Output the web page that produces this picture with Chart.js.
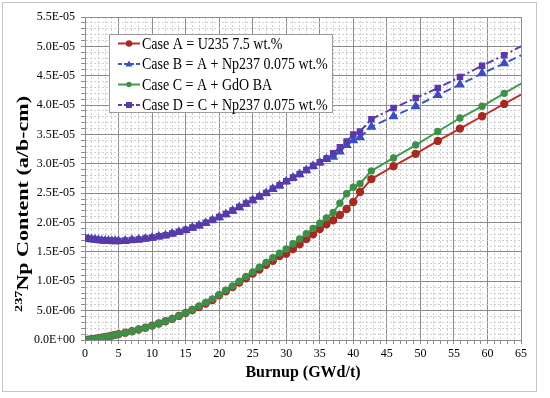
<!DOCTYPE html>
<html>
<head>
<meta charset="utf-8">
<script src="https://cdn.jsdelivr.net/npm/chart.js@4.4.0/dist/chart.umd.min.js"></script>
<style>
  body { margin: 0; background: #fff; }
  #wrap { width: 550px; height: 398px; position: relative; }
</style>
</head>
<body>
<div id="wrap"><canvas id="npChart" width="550" height="398"></canvas></div>
<script>
// burnup steps (GWd/t)
const burnup = [0, 0.5, 1, 1.5, 2, 2.5, 3, 3.5, 4, 4.5, 5,
  6, 7, 8, 9, 10, 11, 12, 13, 14, 15, 16, 17, 18, 19, 20,
  21, 22, 23, 24, 25, 26, 27, 28, 29, 30, 31, 32, 33, 34, 35,
  36, 37, 38, 39, 40, 41, 42.7, 46, 49.3, 52.6, 55.9, 59.2, 62.5, 65.8];

// Np-237 content, units of 1e-5 a/b-cm
const caseA = [0, 0.005, 0.012, 0.02, 0.03, 0.04, 0.05, 0.062, 0.075, 0.088, 0.1,
  0.125, 0.15, 0.18, 0.21, 0.245, 0.28, 0.32, 0.36, 0.41, 0.46, 0.51, 0.56, 0.62, 0.68, 0.76,
  0.83, 0.9, 0.98, 1.05, 1.13, 1.2, 1.28, 1.35, 1.43, 1.47, 1.55, 1.63, 1.72, 1.8, 1.89,
  1.97, 2.04, 2.13, 2.23, 2.35, 2.52, 2.74, 2.96, 3.17, 3.39, 3.6, 3.81, 4.02, 4.23];
const caseB = [1.73, 1.72, 1.715, 1.71, 1.70, 1.695, 1.69, 1.688, 1.686, 1.685, 1.685,
  1.69, 1.70, 1.71, 1.725, 1.74, 1.76, 1.78, 1.81, 1.84, 1.87, 1.91, 1.95, 1.99, 2.04, 2.09,
  2.14, 2.2, 2.26, 2.32, 2.38, 2.44, 2.5, 2.57, 2.63, 2.7, 2.76, 2.82, 2.89, 2.96, 3.02,
  3.08, 3.12, 3.21, 3.32, 3.4, 3.45, 3.63, 3.81, 3.98, 4.17, 4.35, 4.54, 4.71, 4.89];
const caseC = [0, 0.005, 0.012, 0.02, 0.03, 0.04, 0.05, 0.062, 0.075, 0.088, 0.1,
  0.125, 0.15, 0.18, 0.21, 0.245, 0.28, 0.32, 0.36, 0.41, 0.46, 0.52, 0.58, 0.64, 0.7, 0.77,
  0.85, 0.92, 1.0, 1.08, 1.16, 1.24, 1.32, 1.4, 1.48, 1.55, 1.64, 1.72, 1.81, 1.9, 1.99,
  2.08, 2.17, 2.33, 2.49, 2.6, 2.66, 2.88, 3.1, 3.32, 3.55, 3.78, 3.98, 4.2, 4.42];
const caseD = [1.735, 1.725, 1.718, 1.712, 1.703, 1.698, 1.693, 1.69, 1.688, 1.687, 1.687,
  1.692, 1.702, 1.713, 1.728, 1.744, 1.765, 1.785, 1.815, 1.845, 1.875, 1.915, 1.955, 1.995, 2.045, 2.095,
  2.145, 2.205, 2.265, 2.325, 2.385, 2.445, 2.505, 2.575, 2.635, 2.705, 2.765, 2.825, 2.895, 2.965, 3.025,
  3.09, 3.18, 3.28, 3.38, 3.5, 3.55, 3.76, 3.95, 4.12, 4.29, 4.48, 4.67, 4.85, 5.05];

const seriesNames = ['Case A = U235 7.5 wt.%', 'Case B = A + Np237 0.075 wt.%',
  'Case C = A + GdO BA', 'Case D = C + Np237 0.075 wt.%'];

const xMax = 65;
const yMax = 5.5e-5;

function toPoints(vals) {
  return burnup.map((b, i) => ({ x: b, y: vals[i] * 1e-5 }));
}

function sciLabel(v) {
  if (Math.abs(v) < 1e-12) return '0.0E+00';
  const parts = v.toExponential(1).split('e');
  const e = parseInt(parts[1]);
  return parts[0] + 'E' + (e < 0 ? '-' : '+') + String(Math.abs(e)).padStart(2, '0');
}

const styles = [
  { color: '#c0302a', marker: '#a52a22', pointStyle: 'circle', radius: 3.2, dash: [] },
  { color: '#3a5bc7', marker: '#3a4fc0', pointStyle: 'triangle', radius: 3.8, dash: [8, 4] },
  { color: '#3e9b4f', marker: '#3e8f48', pointStyle: 'circle', radius: 2.7, dash: [] },
  { color: '#5a3fa8', marker: '#5a3aa8', pointStyle: 'rect', radius: 3.2, dash: [8, 3, 2, 3] }
];
const allData = [caseA, caseB, caseC, caseD];
const drawOrder = [3, 4, 1, 2];

const frameAndLabels = {
  id: 'frameAndLabels',
  afterDraw(chart) {
    const ctx = chart.ctx;
    ctx.save();
    // outer frame
    ctx.strokeStyle = '#c4c4c4';
    ctx.lineWidth = 1;
    ctx.strokeRect(2.5, 2.5, 534, 389);

    // legend box
    const lx = 109, ly = 34, lw = 223, lh = 78;
    ctx.fillStyle = '#fff';
    ctx.fillRect(lx, ly, lw, lh);
    ctx.strokeStyle = '#9a9a9a';
    ctx.strokeRect(lx + 0.5, ly + 0.5, lw, lh);
    ctx.font = '16px "Liberation Serif"';
    ctx.textBaseline = 'middle';
    seriesNames.forEach((name, i) => {
      const y = 43.5 + i * 20.5;
      const s = styles[i];
      ctx.strokeStyle = s.color;
      ctx.lineWidth = 2;
      ctx.setLineDash(s.dash.length ? [4, 2] : []);
      ctx.beginPath();
      ctx.moveTo(118, y);
      ctx.lineTo(140, y);
      ctx.stroke();
      ctx.setLineDash([]);
      ctx.fillStyle = s.marker;
      ctx.beginPath();
      if (s.pointStyle === 'circle') {
        ctx.arc(129, y, s.radius, 0, Math.PI * 2);
      } else if (s.pointStyle === 'triangle') {
        ctx.moveTo(129, y - 3.5); ctx.lineTo(132.5, y + 2.5); ctx.lineTo(125.5, y + 2.5); ctx.closePath();
      } else {
        ctx.rect(126, y - 3, 6, 6);
      }
      ctx.fill();
      ctx.fillStyle = '#000';
      const w = ctx.measureText(name).width;
      ctx.fillText(name, 142, y + 1, w * 0.875);
    });

    // x title
    ctx.font = 'bold 16px "Liberation Serif"';
    ctx.textAlign = 'center';
    ctx.textBaseline = 'middle';
    ctx.fillText('Burnup (GWd/t)', 303, 373);

    // y title with superscript, stretched along its length like the reference
    ctx.translate(23, 204);
    ctx.rotate(-Math.PI / 2);
    ctx.textAlign = 'left';
    ctx.textBaseline = 'alphabetic';
    ctx.font = 'bold 11px "Liberation Serif"';
    const supW = ctx.measureText('237').width;
    ctx.font = 'bold 17px "Liberation Serif"';
    const mainW = ctx.measureText('Np Content (a/b-cm)').width;
    const stretch = 216 / (supW + mainW);
    ctx.scale(stretch, 1);
    const x0 = -(supW + mainW) / 2;
    ctx.font = 'bold 11px "Liberation Serif"';
    ctx.fillText('237', x0, -1);
    ctx.font = 'bold 17px "Liberation Serif"';
    ctx.fillText('Np Content (a/b-cm)', x0 + supW, 5);
    ctx.restore();
  }
};

function gridColor(major) { return major ? '#8c8c8c' : '#cfcfcf'; }

const ctx = document.getElementById('npChart').getContext('2d');
new Chart(ctx, {
  type: 'line',
  data: {
    datasets: allData.map((vals, i) => ({
      label: seriesNames[i],
      data: toPoints(vals),
      borderColor: styles[i].color,
      backgroundColor: styles[i].marker,
      pointBackgroundColor: styles[i].marker,
      pointBorderColor: styles[i].marker,
      pointStyle: styles[i].pointStyle,
      pointRadius: styles[i].radius,
      borderWidth: 2,
      borderDash: styles[i].dash,
      tension: 0,
      order: drawOrder[i]
    }))
  },
  options: {
    responsive: false,
    animation: false,
    devicePixelRatio: 1,
    layout: { padding: { left: 0, right: 29, top: 17, bottom: 0 } },
    plugins: {
      legend: { display: false },
      tooltip: { enabled: false }
    },
    scales: {
      x: {
        type: 'linear',
        min: 0,
        max: xMax,
        afterFit: s => { s.height = 58; },
        ticks: {
          stepSize: 1,
          maxTicksLimit: 100,
          autoSkip: false,
          maxRotation: 0,
          color: '#000',
          font: { family: 'Liberation Serif', size: 12 },
          padding: 3,
          callback: v => (Math.round(v) % 5 === 0 ? String(Math.round(v)) : '')
        },
        grid: {
          color: c => gridColor(Math.round(c.tick.value) % 5 === 0),
          tickColor: '#8c8c8c',
          tickLength: 4
        },
        border: {
          color: '#8c8c8c',
          dash: c => (Math.round(c.tick.value) % 5 === 0 ? [] : [2, 2])
        }
      },
      y: {
        min: 0,
        max: yMax,
        afterFit: s => { s.width = 85; },
        ticks: {
          stepSize: 1e-6,
          maxTicksLimit: 100,
          autoSkip: false,
          color: '#000',
          font: { family: 'Liberation Serif', size: 12 },
          padding: 6,
          callback: v => (Math.round(v / 1e-6) % 5 === 0 ? sciLabel(v) : '')
        },
        grid: {
          color: c => gridColor(Math.round(c.tick.value / 1e-6) % 5 === 0),
          tickColor: '#8c8c8c',
          tickLength: 4
        },
        border: {
          color: '#8c8c8c',
          dash: c => (Math.round(c.tick.value / 1e-6) % 5 === 0 ? [] : [2, 2])
        }
      }
    }
  },
  plugins: [frameAndLabels]
});
</script>
</body>
</html>
